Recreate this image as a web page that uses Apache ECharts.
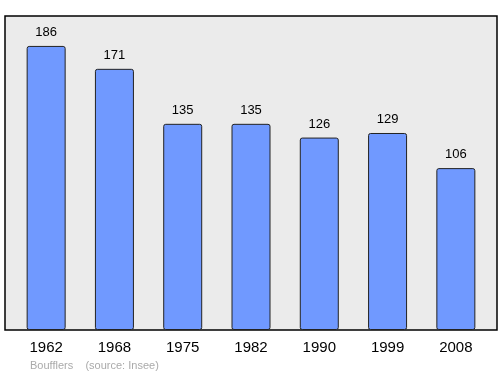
<!DOCTYPE html>
<html><head><meta charset="utf-8">
<script src="https://cdn.jsdelivr.net/npm/echarts@6/dist/echarts.min.js"></script>
<style>html,body{margin:0;padding:0;background:#fff}#c{width:500px;height:374px}</style>
</head><body><div id="c"></div>
<script>
var years = ['1962','1968','1975','1982','1990','1999','2008'];
var population = [186,171,135,135,126,129,106];
var chart = echarts.init(document.getElementById('c'), null, {renderer:'canvas'});
chart.setOption({
  animation:false,
  graphic:[
    {type:'rect', z:-10, shape:{x:5,y:16,width:492,height:314}, style:{fill:'#ebebeb', stroke:'#000', lineWidth:1.5}},
    {type:'text', left:30, top:360, style:{text:'Boufflers    (source: Insee)', fill:'#aaaaaa', font:'11px "Liberation Sans", Arial, sans-serif'}}
  ],
  grid:{left:12, right:10, top:16, bottom:44},
  xAxis:{type:'category', data:years, boundaryGap:true,
    axisLine:{show:false}, axisTick:{show:false},
    axisLabel:{color:'#000', fontSize:15, fontFamily:'"Liberation Sans", Arial, sans-serif', margin:10}},
  yAxis:{type:'value', min:0, max:205.6, show:false, splitLine:{show:false}},
  series:[{type:'bar', data:population, barWidth:39,
    itemStyle:{color:'#7099ff', borderColor:'#222', borderWidth:1, borderRadius:2},
    label:{show:true, position:'top', distance:7, color:'#000', fontSize:13, fontFamily:'"Liberation Sans", Arial, sans-serif'}}]
});
</script></body></html>
